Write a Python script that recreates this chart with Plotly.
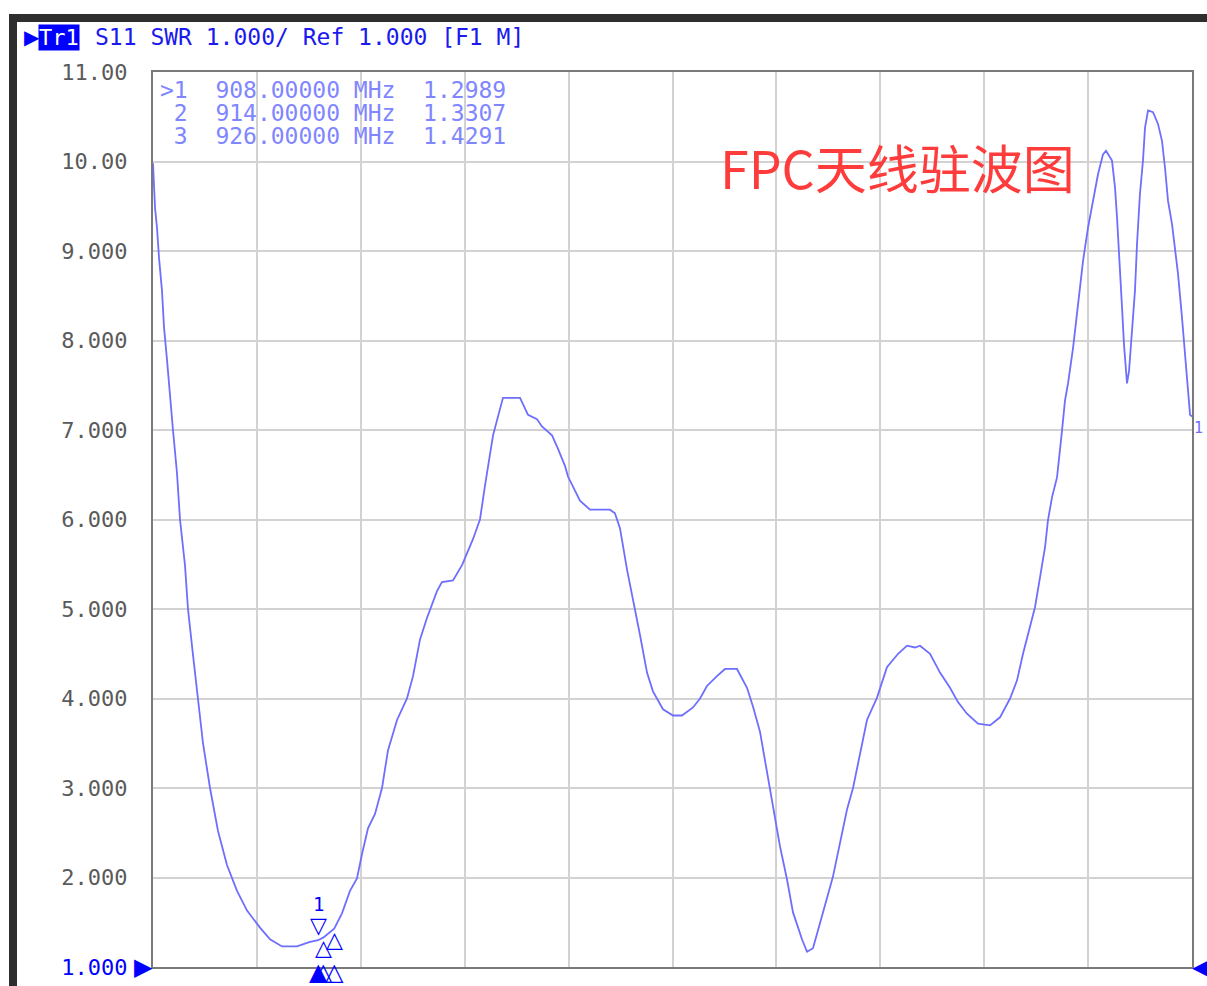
import plotly.graph_objects as go

# ---------------- data ----------------
freq_start_mhz = 722.0
freq_stop_mhz = 1892.0

freq_mhz = [
    722.0, 723.1, 724.3, 726.5, 728.8, 732.1, 734.4, 737.8, 741.1, 744.5,
    749.0, 752.4, 758.0, 761.4, 767.0, 772.7, 778.3, 786.2, 795.2, 805.3,
    816.6, 827.9, 842.5, 853.8, 867.3, 884.2, 898.8, 908.0, 914.0, 926.0,
    934.8, 943.8, 951.7, 957.3, 964.1, 972.0, 979.9, 986.6, 996.8, 1008.0,
    1014.8, 1022.7, 1030.5, 1041.8, 1047.4, 1059.8, 1070.0, 1082.3, 1090.2, 1095.9,
    1104.9, 1116.1, 1135.3, 1144.3, 1154.4, 1160.0, 1171.3, 1178.1, 1185.9, 1189.3,
    1202.8, 1214.1, 1236.6, 1242.2, 1247.9, 1255.8, 1264.8, 1270.4, 1278.3, 1285.0,
    1296.3, 1307.6, 1317.7, 1330.1, 1338.0, 1345.8, 1357.1, 1366.1, 1379.6, 1390.9,
    1397.6, 1405.5, 1413.4, 1420.2, 1428.0, 1435.9, 1442.7, 1452.8, 1458.5, 1465.2,
    1473.1, 1481.0, 1487.7, 1495.6, 1503.5, 1510.3, 1518.1, 1526.0, 1537.3, 1548.5,
    1561.0, 1571.1, 1580.1, 1585.7, 1597.0, 1608.2, 1619.5, 1628.5, 1638.6, 1651.0,
    1664.5, 1675.8, 1687.1, 1694.9, 1701.7, 1709.6, 1715.2, 1720.8, 1726.5, 1729.8,
    1734.4, 1740.0, 1743.4, 1745.6, 1749.0, 1752.4, 1758.1, 1763.6, 1769.3, 1774.9,
    1780.6, 1786.2, 1791.8, 1795.2, 1801.9, 1805.3, 1807.6, 1809.8, 1813.2, 1815.4,
    1817.7, 1818.8, 1821.1, 1824.4, 1827.8, 1830.1, 1833.4, 1836.8, 1839.1, 1842.5,
    1848.1, 1853.7, 1858.2, 1861.6, 1865.0, 1869.5, 1872.9, 1876.2, 1880.7, 1884.1,
    1887.5, 1889.8, 1892.0,
]
swr = [
    9.98, 9.78, 9.48, 9.26, 8.92, 8.56, 8.15, 7.78, 7.36, 7.00,
    6.52, 6.00, 5.49, 5.00, 4.49, 4.00, 3.50, 3.00, 2.52, 2.14,
    1.85, 1.63, 1.44, 1.31, 1.23, 1.23, 1.28, 1.2989, 1.3307, 1.4291,
    1.60, 1.85, 1.99, 2.26, 2.55, 2.71, 3.00, 3.42, 3.76, 4.00,
    4.25, 4.66, 4.90, 5.20, 5.30, 5.32, 5.49, 5.78, 6.00, 6.38,
    6.94, 7.36, 7.36, 7.17, 7.12, 7.04, 6.94, 6.79, 6.60, 6.48,
    6.21, 6.11, 6.11, 6.07, 5.90, 5.44, 5.00, 4.71, 4.29, 4.08,
    3.88, 3.81, 3.81, 3.90, 4.00, 4.14, 4.25, 4.33, 4.33, 4.12,
    3.91, 3.63, 3.18, 2.81, 2.35, 1.98, 1.61, 1.31, 1.17, 1.21,
    1.48, 1.77, 2.01, 2.39, 2.76, 3.00, 3.38, 3.76, 4.01, 4.35,
    4.50, 4.59, 4.57, 4.59, 4.50, 4.29, 4.12, 3.96, 3.83, 3.72,
    3.70, 3.79, 4.00, 4.20, 4.50, 4.79, 5.02, 5.35, 5.69, 5.99,
    6.25, 6.47, 6.75, 6.99, 7.33, 7.52, 7.92, 8.41, 8.89, 9.26,
    9.56, 9.86, 10.08, 10.12, 10.01, 9.71, 9.37, 8.92, 8.37, 7.96,
    7.66, 7.52, 7.66, 8.11, 8.56, 9.08, 9.64, 10.01, 10.38, 10.57,
    10.55, 10.42, 10.23, 9.93, 9.56, 9.30, 9.04, 8.75, 8.26, 7.86,
    7.48, 7.17, 7.15,
]

marker_ids = [1, 2, 3]
marker_freqs = [908.0, 914.0, 926.0]
marker_vals = [1.2989, 1.3307, 1.4291]

y_min, y_max = 1.0, 11.0
y_tick_vals = [1, 2, 3, 4, 5, 6, 7, 8, 9, 10, 11]
header_text = "S11 SWR 1.000/ Ref 1.000 [F1 M]"
title_text = "FPC天线驻波图"

# ---------------- layout geometry ----------------
W, H = 1207, 986
L, R, T, B = 153, 1192, 72, 967

def px(x):
    # figure pixel -> plotly paper (plot-area relative) coordinate
    return (x - L) / (R - L)

def py(y):
    return (B - y) / (B - T)

MONO = "DejaVu Sans Mono"
TRACE_BLUE = "#6e6eff"
BLUE = "#0000ff"
NB = "\u00a0"

def ytick_text(v):
    s = f"{v:.2f}" if v >= 10 else f"{v:.3f}"
    if v == y_min:
        s = f"<span style='color:{BLUE}'>{s}</span>"
    return s

fig = go.Figure()
fig.add_trace(go.Scatter(
    x=freq_mhz, y=swr, mode="lines",
    line=dict(color=TRACE_BLUE, width=1.8),
    hoverinfo="skip", showlegend=False,
))

annotations = []
# header
annotations.append(dict(xref="paper", yref="paper", x=px(22), y=py(37), xanchor="left", yanchor="middle",
                        text="▶", showarrow=False, font=dict(family="DejaVu Sans", size=20, color=BLUE)))
annotations.append(dict(xref="paper", yref="paper", x=px(38), y=py(37), xanchor="left", yanchor="middle",
                        text="Tr1", showarrow=False, bgcolor=BLUE, borderpad=0,
                        font=dict(family=MONO, size=22, color="white")))
annotations.append(dict(xref="paper", yref="paper", x=px(93), y=py(37), xanchor="left", yanchor="middle",
                        text=header_text.replace(" ", NB), showarrow=False,
                        font=dict(family=MONO, size=23, color="#1a1aee")))
# marker table
for i, (mid, mf, mv) in enumerate(zip(marker_ids, marker_freqs, marker_vals)):
    prefix = ">" if i == 0 else " "
    line = f"{prefix}{mid}  {mf:.5f} MHz  {mv:.4f}"
    annotations.append(dict(xref="paper", yref="paper", x=px(158), y=py(90 + 23 * i),
                            xanchor="left", yanchor="middle", text=line.replace(" ", NB),
                            showarrow=False, font=dict(family=MONO, size=23, color="#7f86ff")))
# red title
annotations.append(dict(xref="paper", yref="paper", x=px(718), y=py(166), xanchor="left", yanchor="middle",
                        text=title_text, showarrow=False,
                        font=dict(family="Noto Sans CJK SC", size=52, color="#ff3c3c")))
# markers on trace
for i, (mid, mf, mv) in enumerate(zip(marker_ids, marker_freqs, marker_vals)):
    if i == 0:
        annotations.append(dict(x=mf, y=mv, xref="x", yref="y", xanchor="center", yanchor="bottom",
                                text="▽", showarrow=False, yshift=0,
                                font=dict(family="DejaVu Sans", size=22, color=BLUE)))
        annotations.append(dict(x=mf, y=mv, xref="x", yref="y", xanchor="center", yanchor="bottom",
                                text=str(mid), showarrow=False, yshift=23,
                                font=dict(family=MONO, size=19, color=BLUE)))
    else:
        annotations.append(dict(x=mf, y=mv, xref="x", yref="y", xanchor="center", yanchor="top",
                                text="△", showarrow=False, yshift=4,
                                font=dict(family="DejaVu Sans", size=22, color=BLUE)))
    annotations.append(dict(x=mf, y=y_min, xref="x", yref="y", xanchor="center", yanchor="top",
                            text="▲" if i == 0 else "△", showarrow=False, yshift=11,
                            font=dict(family="DejaVu Sans", size=24, color=BLUE)))
# reference level arrows
annotations.append(dict(x=freq_start_mhz, y=y_min, xref="x", yref="y", xanchor="right", yanchor="middle",
                        text="▶", showarrow=False, xshift=2,
                        font=dict(family="DejaVu Sans", size=24, color=BLUE)))
annotations.append(dict(x=freq_stop_mhz, y=y_min, xref="x", yref="y", xanchor="left", yanchor="middle",
                        text="◀", showarrow=False, xshift=-2,
                        font=dict(family="DejaVu Sans", size=24, color=BLUE)))
# trace end label
annotations.append(dict(x=freq_stop_mhz, y=swr[-1], xref="x", yref="y", xanchor="left", yanchor="top",
                        text="1", showarrow=False, font=dict(family=MONO, size=15, color=TRACE_BLUE)))

shapes = [
    # outer instrument frame
    dict(type="rect", xref="paper", yref="paper", x0=px(9), x1=px(W + 5), y0=py(22), y1=py(14),
         fillcolor="#2e2e2e", line=dict(width=0), layer="above"),
    dict(type="rect", xref="paper", yref="paper", x0=px(9), x1=px(17), y0=py(H + 5), y1=py(14),
         fillcolor="#2e2e2e", line=dict(width=0), layer="above"),
]

fig.update_layout(
    width=W, height=H, autosize=False,
    margin=dict(l=L, r=W - R, t=T, b=H - B, pad=0, autoexpand=False),
    paper_bgcolor="white", plot_bgcolor="white",
    showlegend=False,
    annotations=annotations,
    shapes=shapes,
    xaxis=dict(range=[freq_start_mhz, freq_stop_mhz], tick0=freq_start_mhz,
               dtick=(freq_stop_mhz - freq_start_mhz) / 10,
               showticklabels=False, ticks="", showgrid=True, gridcolor="#d2d2d2", gridwidth=2,
               zeroline=False, showline=True, linecolor="#7a7a7a", linewidth=2, mirror=True),
    yaxis=dict(range=[y_min, y_max], tickvals=y_tick_vals,
               ticktext=[ytick_text(v) for v in y_tick_vals],
               ticks="", ticklabelstandoff=19,
               tickfont=dict(family=MONO, size=22, color="#5a5a5a"),
               showgrid=True, gridcolor="#d2d2d2", gridwidth=2,
               zeroline=False, showline=True, linecolor="#7a7a7a", linewidth=2, mirror=True),
)

fig.write_html("out.html", config={"displayModeBar": False},
               post_script="document.body.style.margin='0';document.body.style.overflow='hidden';")
